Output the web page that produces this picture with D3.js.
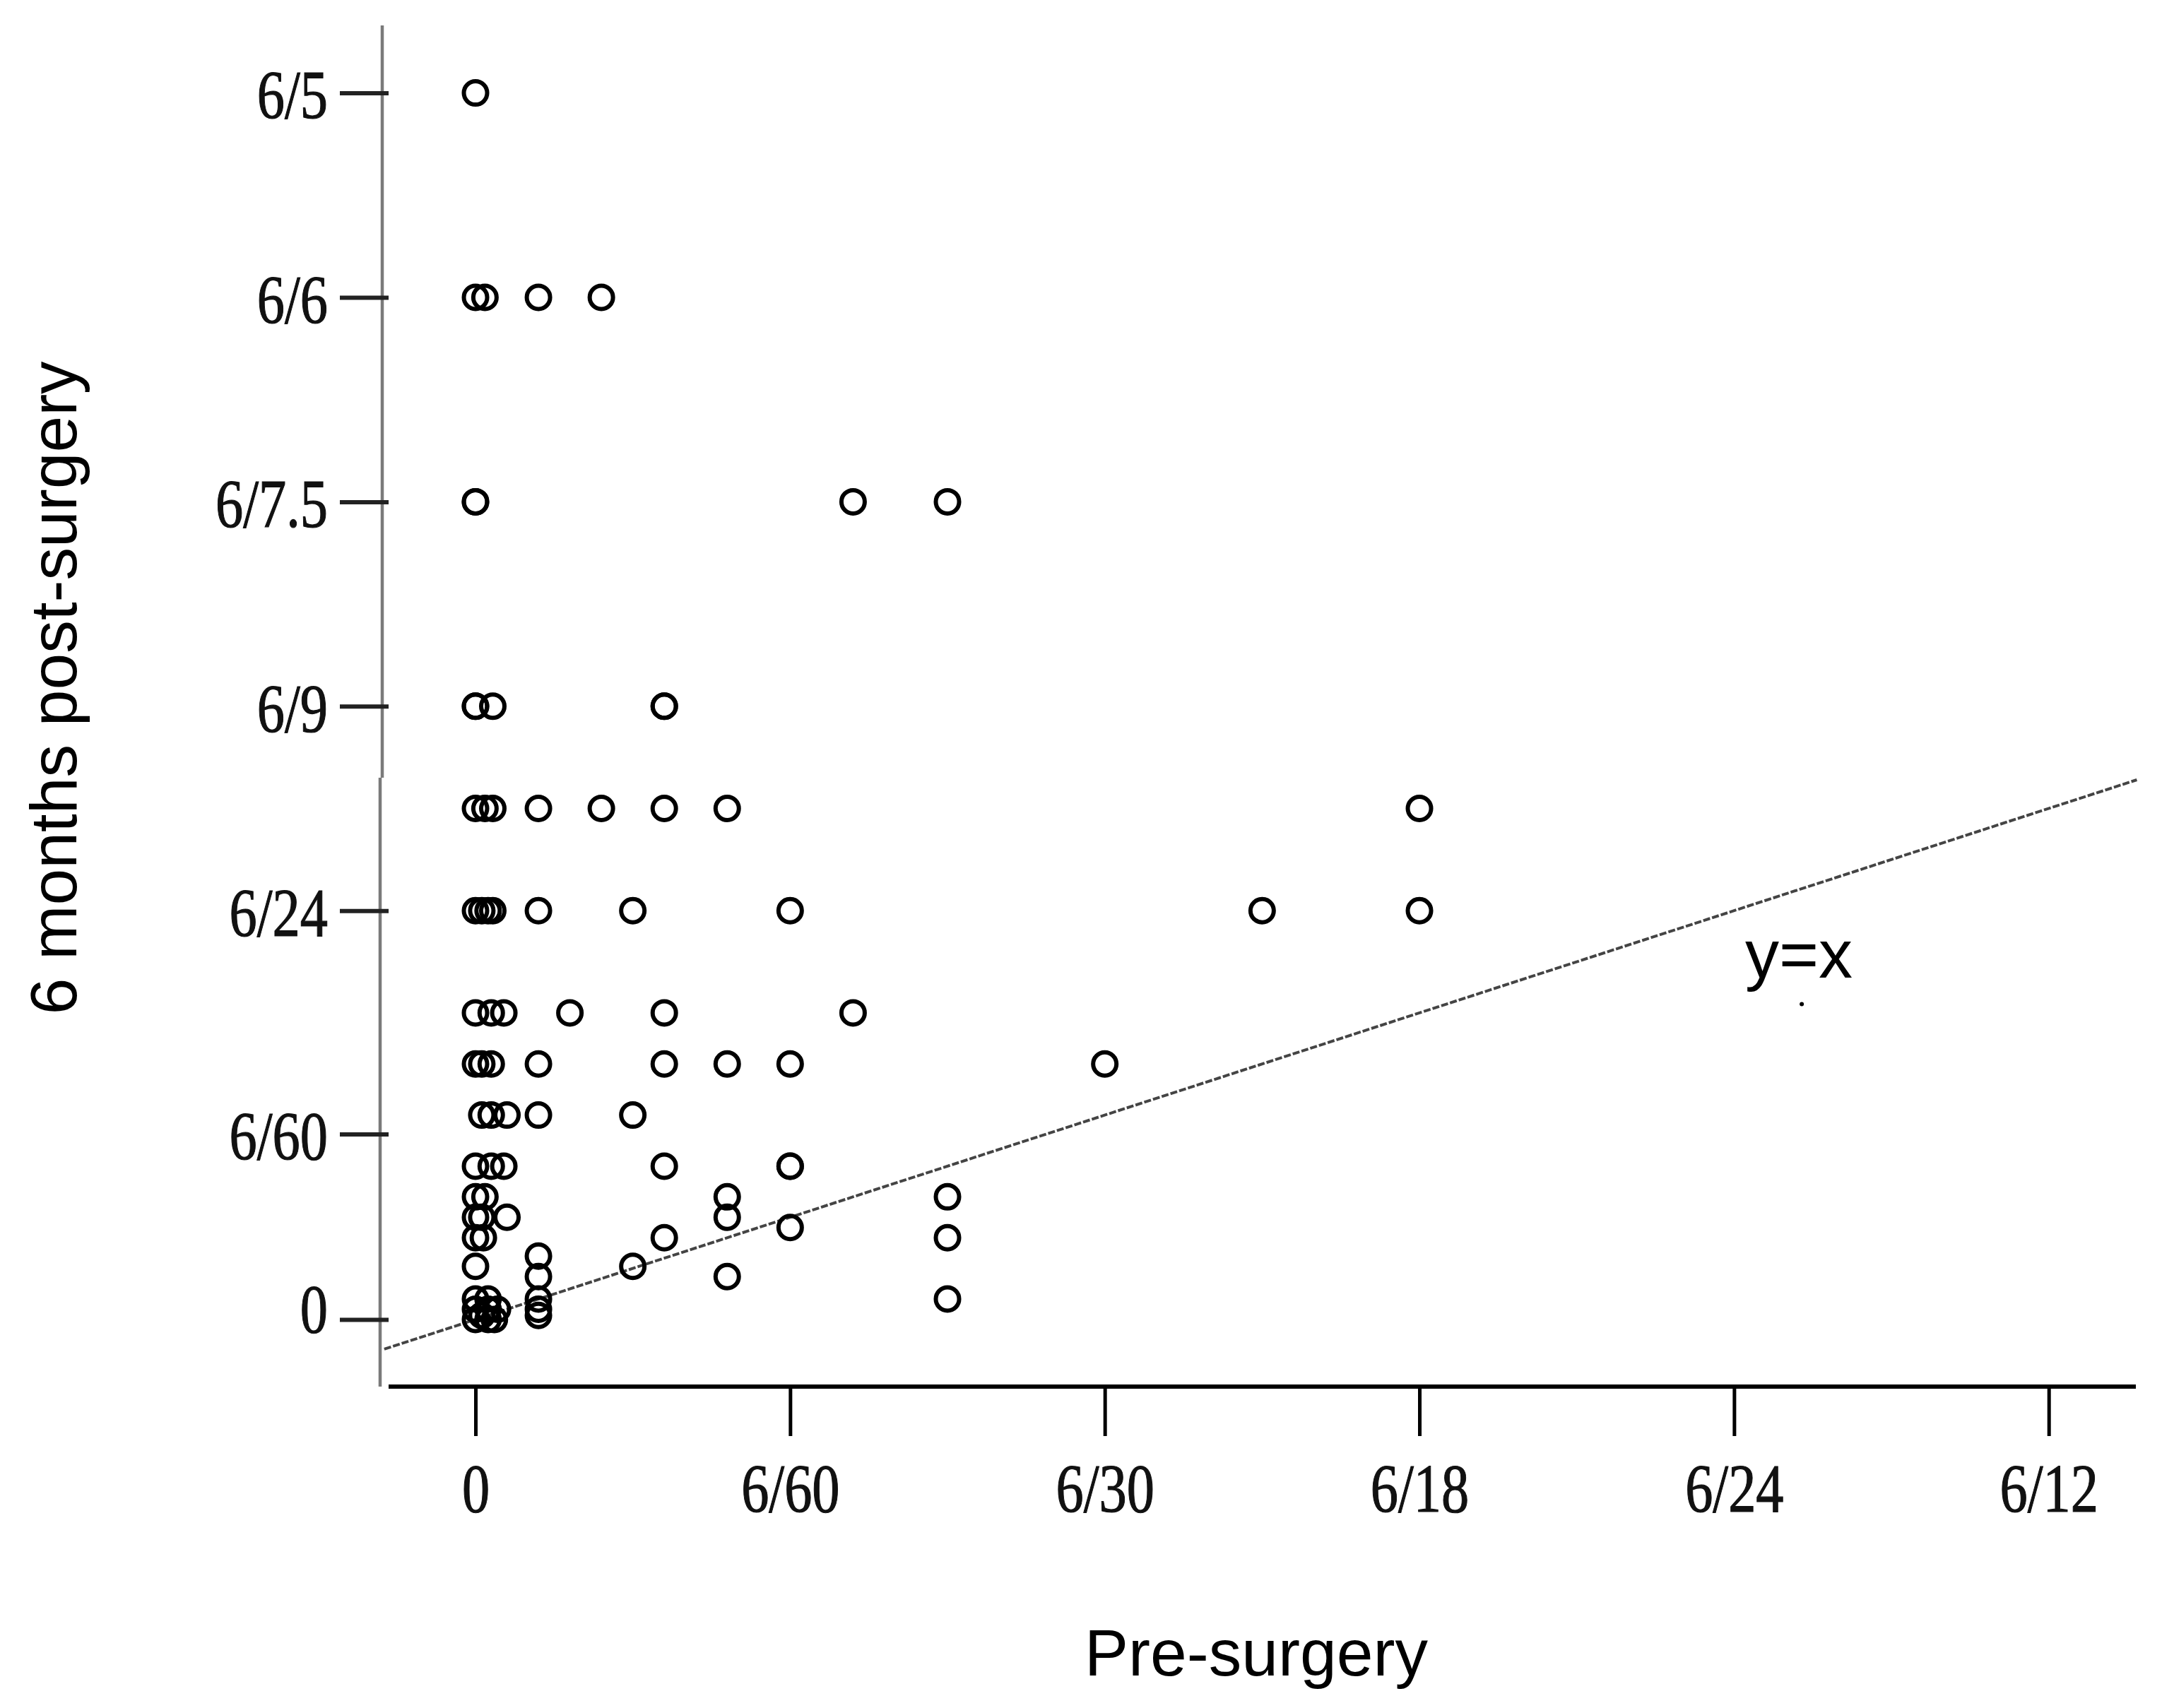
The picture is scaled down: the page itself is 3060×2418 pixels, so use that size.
<!DOCTYPE html>
<html>
<head>
<meta charset="utf-8">
<script src="https://cdn.jsdelivr.net/npm/d3@7"></script>
<style>
  html, body { margin: 0; padding: 0; background: #fff; }
  svg { display: block; }
</style>
</head>
<body>
<svg id="chart" width="3060" height="2418"></svg>
<script>
// ---- Data (positions in ordinal "visual acuity" units) ----
const xTickValues = [0, 1, 2, 3, 4, 5];
const xTickLabels = ["0", "6/60", "6/30", "6/18", "6/24", "6/12"];

const yTickValues = [8, 7, 6, 5, 4, 2.907, 2];
const yTickLabels = ["6/5", "6/6", "6/7.5", "6/9", "6/24", "6/60", "0"];

// post-surgery level of each row of points
const postLevels = [8, 7, 6, 5, 4.5, 4, 3.5, 3.25, 3.0, 2.75, 2.6, 2.5, 2.45, 2.4, 2.31, 2.26, 2.21, 2.1, 2.05, 2.02, 2.0];
// pre-surgery values of the points in each row
const preByLevel = [
  [0],
  [0, 0.03, 0.2, 0.4],
  [0, 0, 1.2, 1.5],
  [0, 0, 0.055, 0.6, 0.6],
  [0, 0.03, 0.055, 0.2, 0.4, 0.6, 0.8, 3.0],
  [0, 0.02, 0.04, 0.055, 0.2, 0.5, 1.0, 2.5, 3.0],
  [0, 0.05, 0.09, 0.3, 0.6, 1.2],
  [0, 0.02, 0.05, 0.2, 0.6, 0.8, 1.0, 2.0],
  [0.02, 0.05, 0.1, 0.2, 0.5],
  [0, 0.05, 0.09, 0.6, 1.0, 1.0],
  [0, 0.03, 0.8, 1.5],
  [0, 0.02, 0.1, 0.8],
  [1.0],
  [0, 0.025, 0.6, 1.5],
  [0.2],
  [0, 0.5],
  [0.2, 0.8],
  [1.5, 0.2, 0, 0.04],
  [0.2, 0, 0.04, 0.07],
  [0.2, 0.02],
  [0, 0.04, 0.06]
];

// reference line y = x (endpoints)
const refLine = [{x: -0.29, y: 1.855}, {x: 5.28, y: 4.64}];
const refLabel = {text: "y=x", x: 4.035, y: 3.674};
const strayDot = {x: 4.215, y: 3.543};

const xTitle = "Pre-surgery";
const yTitle = "6 months post-surgery";

// ---- Build ----
const points = [];
postLevels.forEach((v, i) => preByLevel[i].forEach(u => points.push({pre: u, post: v})));

const svg = d3.select("#chart");
svg.append("rect").attr("width", 3060).attr("height", 2418).attr("fill", "#fff");

const x = d3.scaleLinear().domain([0, 5]).range([673, 2899.7]);
const y = d3.scaleLinear().domain([2, 8]).range([1868, 131.6]);

const serif = "'Liberation Serif', 'Times New Roman', serif";
const sans = "'Liberation Sans', Arial, sans-serif";
const sx = 0.8; // condensed look of tick labels

// y axis vertical line (grey, with a small break)
svg.append("line").attr("x1", 541).attr("x2", 541).attr("y1", 36).attr("y2", 1101)
  .attr("stroke", "#7a7a7a").attr("stroke-width", 4.5);
svg.append("line").attr("x1", 538).attr("x2", 538).attr("y1", 1101).attr("y2", 1963)
  .attr("stroke", "#7a7a7a").attr("stroke-width", 4.5);

// y ticks + labels
const yAxis = d3.axisLeft(y)
  .tickValues(yTickValues)
  .tickFormat((d, i) => yTickLabels[i])
  .tickSize(69);
const gy = svg.append("g").attr("transform", "translate(550,0)").call(yAxis);
gy.select(".domain").remove();
gy.selectAll(".tick line").attr("stroke", "#222").attr("stroke-width", 6);
gy.selectAll(".tick text")
  .attr("font-family", serif).attr("font-size", 98).attr("fill", "#111")
  .attr("stroke", "#111").attr("stroke-width", 1.2)
  .attr("x", -86 / sx).attr("dy", (d, i) => i === yTickLabels.length - 1 ? "0.18em" : "0.36em")
  .attr("transform", `scale(${sx},1)`);

// x axis
svg.append("line").attr("x1", 550).attr("x2", 3023).attr("y1", 1963).attr("y2", 1963)
  .attr("stroke", "#000").attr("stroke-width", 6);
const xAxis = d3.axisBottom(x)
  .tickValues(xTickValues)
  .tickFormat((d, i) => xTickLabels[i])
  .tickSize(70).tickPadding(37);
const gx = svg.append("g").attr("transform", "translate(0,1963)").call(xAxis);
gx.select(".domain").remove();
gx.selectAll(".tick line").attr("stroke", "#000").attr("stroke-width", 5);
gx.selectAll(".tick text")
  .attr("font-family", serif).attr("font-size", 98).attr("fill", "#111")
  .attr("stroke", "#111").attr("stroke-width", 1.2)
  .attr("transform", `scale(${sx},1)`);

// reference line
const line = d3.line().x(d => x(d.x)).y(d => y(d.y));
svg.append("path").datum(refLine).attr("d", line)
  .attr("fill", "none").attr("stroke", "#444").attr("stroke-width", 4)
  .attr("stroke-dasharray", "10,3");

svg.append("text").attr("x", x(refLabel.x)).attr("y", y(refLabel.y))
  .attr("font-family", sans).attr("font-size", 96).attr("fill", "#000")
  .text(refLabel.text);
svg.append("circle").attr("cx", x(strayDot.x)).attr("cy", y(strayDot.y)).attr("r", 3).attr("fill", "#000");

// points
svg.append("g").selectAll("circle").data(points).join("circle")
  .attr("cx", d => x(d.pre)).attr("cy", d => y(d.post))
  .attr("r", 16.5).attr("fill", "none").attr("stroke", "#000").attr("stroke-width", 6);

// titles
svg.append("text").attr("x", 1778).attr("y", 2372).attr("text-anchor", "middle")
  .attr("font-family", sans).attr("font-size", 93).attr("fill", "#000").text(xTitle);
svg.append("text").attr("transform", "translate(108,974) rotate(-90)").attr("text-anchor", "middle")
  .attr("font-family", sans).attr("font-size", 93).attr("fill", "#000").text(yTitle);
</script>
</body>
</html>
